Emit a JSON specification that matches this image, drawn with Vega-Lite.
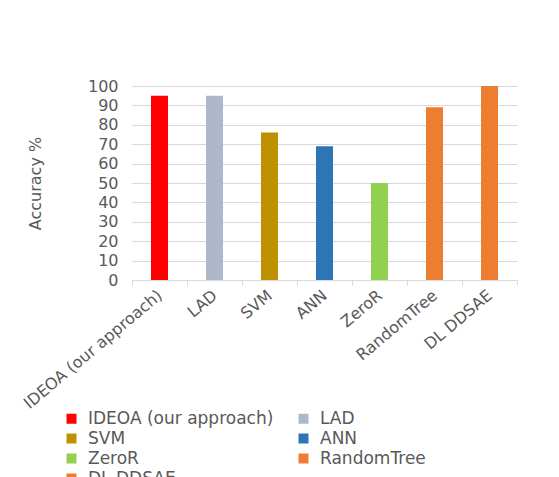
{
  "$schema": "https://vega.github.io/schema/vega-lite/v6.json",
  "autosize": {"type": "none"},
  "width": 385,
  "height": 194,
  "padding": {"left": 132, "top": 86, "right": 42, "bottom": 197},
  "background": "white",
  "data": {
    "values": [
      {"method": "IDEOA (our approach)", "accuracy": 95},
      {"method": "LAD", "accuracy": 95},
      {"method": "SVM", "accuracy": 76},
      {"method": "ANN", "accuracy": 69},
      {"method": "ZeroR", "accuracy": 50},
      {"method": "RandomTree", "accuracy": 89},
      {"method": "DL DDSAE", "accuracy": 100}
    ]
  },
  "mark": {"type": "bar", "size": 17},
  "encoding": {
    "x": {
      "field": "method",
      "type": "nominal",
      "sort": null,
      "scale": {"paddingInner": 0, "paddingOuter": 0},
      "axis": {
        "title": null,
        "labelAngle": -40,
        "labelAlign": "right",
        "labelBaseline": "middle",
        "labelFontSize": 16,
        "labelColor": "#595959",
        "labelFont": "DejaVu Sans",
        "labelPadding": 8,
        "tickBand": "extent",
        "tickColor": "#D9D9D9",
        "tickSize": 5,
        "domainColor": "#D9D9D9",
        "labelLimit": 300
      }
    },
    "y": {
      "field": "accuracy",
      "type": "quantitative",
      "scale": {"domain": [0, 100], "nice": false},
      "axis": {
        "title": "Accuracy %",
        "titleFontSize": 16,
        "titleFontWeight": "normal",
        "titleColor": "#595959",
        "titleFont": "DejaVu Sans",
        "titleX": -97,
        "titleBaseline": "middle",
        "values": [0, 10, 20, 30, 40, 50, 60, 70, 80, 90, 100],
        "labelFontSize": 16,
        "labelColor": "#595959",
        "labelFont": "DejaVu Sans",
        "labelPadding": 14,
        "ticks": false,
        "domain": false,
        "gridColor": "#D9D9D9",
        "gridWidth": 1
      }
    },
    "color": {
      "field": "method",
      "type": "nominal",
      "sort": null,
      "scale": {
        "domain": ["IDEOA (our approach)", "LAD", "SVM", "ANN", "ZeroR", "RandomTree", "DL DDSAE"],
        "range": ["#FF0000", "#ADB9CA", "#BF9000", "#2E75B6", "#92D050", "#ED7D31", "#ED7D31"]
      },
      "legend": {
        "title": null,
        "orient": "none",
        "direction": "horizontal",
        "legendX": -69,
        "legendY": 324,
        "columns": 2,
        "columnPadding": 21,
        "rowPadding": 2,
        "symbolType": "square",
        "symbolSize": 100,
        "symbolStrokeWidth": 0,
        "labelFontSize": 17,
        "labelColor": "#595959",
        "labelFont": "DejaVu Sans",
        "labelOffset": 8,
        "labelLimit": 300
      }
    }
  },
  "config": {"view": {"stroke": null}}
}
